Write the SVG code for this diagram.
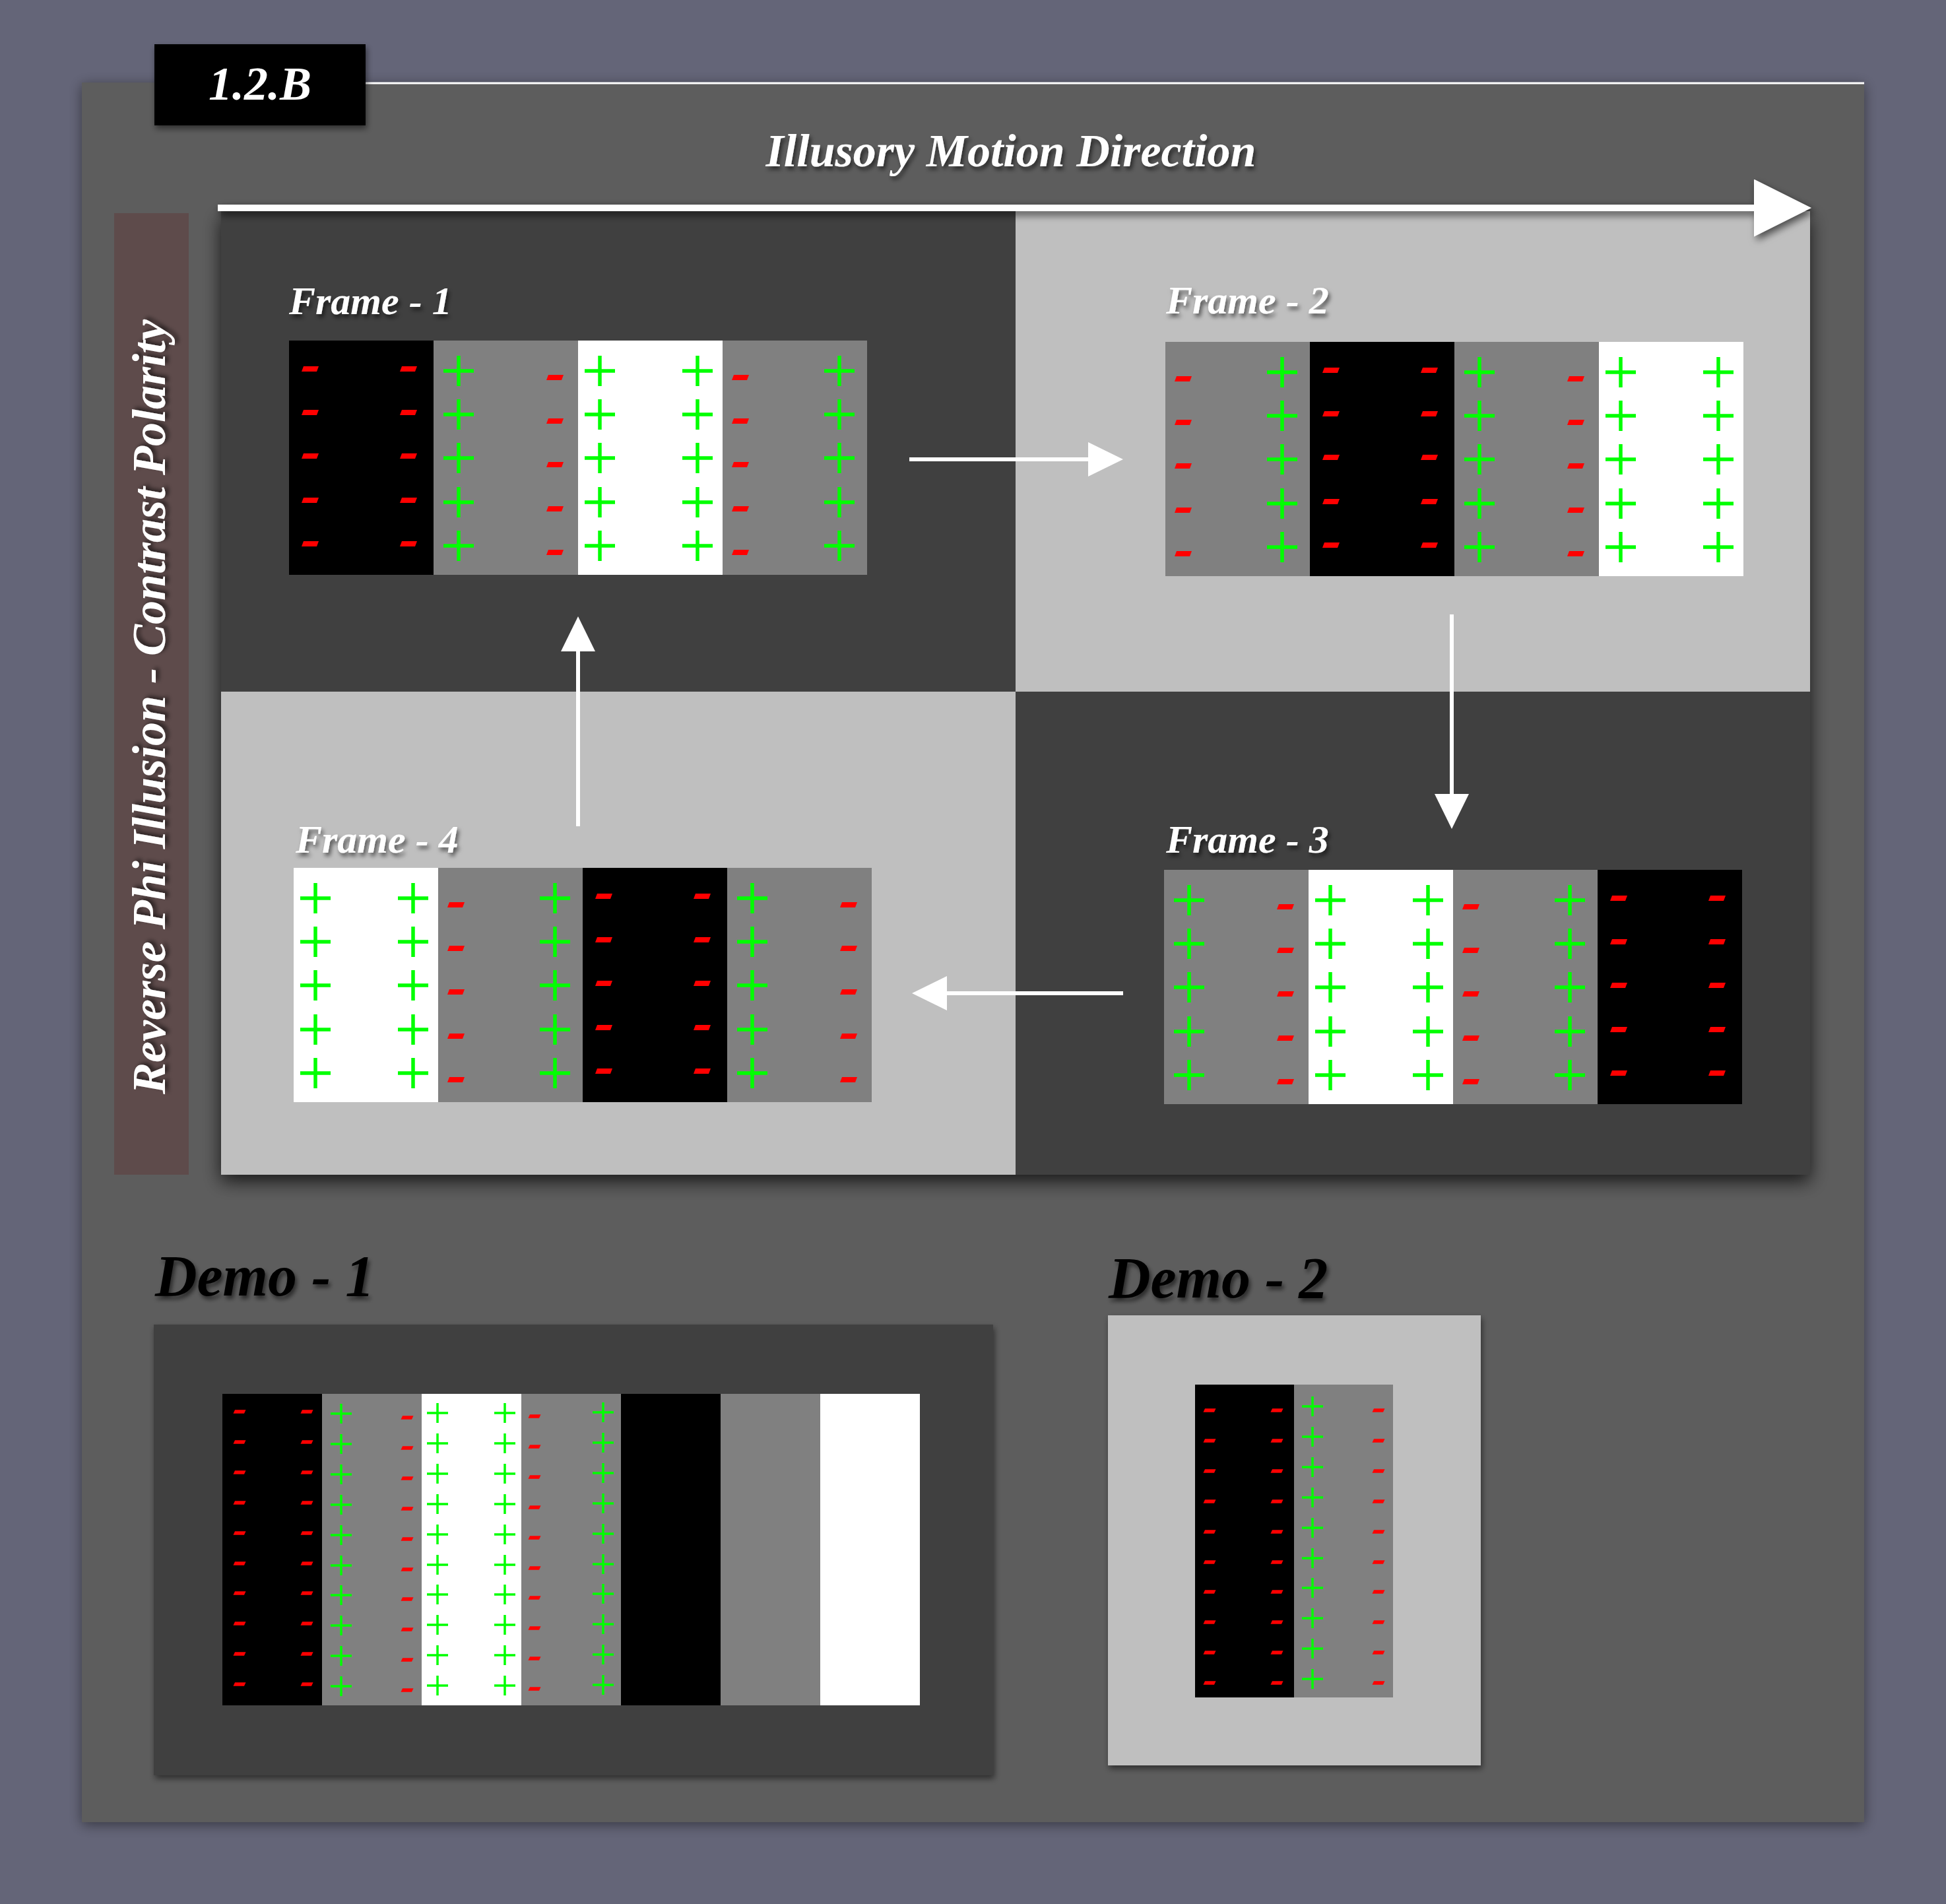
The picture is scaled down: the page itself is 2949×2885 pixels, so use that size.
<svg xmlns="http://www.w3.org/2000/svg" width="2949" height="2885" viewBox="0 0 2949 2885">
<style>
.t{font-family:"Liberation Serif","Times New Roman",serif;font-weight:bold;font-style:italic}
.pl{stroke:#00ff00;stroke-width:5.5;fill:none}
.pls{stroke:#00ff00;stroke-width:3.5;fill:none}
.mi{fill:#ff0000}
.conn{stroke:#ffffff;stroke-width:6;fill:none}
.ft{font-size:60px;fill:#ffffff}
.dt{font-size:88px;fill:#000000}
</style>
<defs>
<filter id="panelSh" x="-5%" y="-5%" width="110%" height="110%"><feDropShadow dx="0" dy="4" stdDeviation="10" flood-color="#000" flood-opacity="0.45"/></filter>
<filter id="frameSh" x="-5%" y="-5%" width="110%" height="112%"><feDropShadow dx="0" dy="10" stdDeviation="14" flood-color="#000" flood-opacity="0.75"/></filter>
<filter id="smallSh" x="-10%" y="-10%" width="120%" height="125%"><feDropShadow dx="2" dy="5" stdDeviation="5" flood-color="#000" flood-opacity="0.5"/></filter>
<filter id="txtSh" x="-5%" y="-20%" width="110%" height="150%"><feDropShadow dx="3" dy="5" stdDeviation="3" flood-color="#000" flood-opacity="0.55"/></filter>
<filter id="arrSh" filterUnits="userSpaceOnUse" x="200" y="200" width="2700" height="220"><feDropShadow dx="4" dy="6" stdDeviation="6" flood-color="#000" flood-opacity="0.6"/></filter>
<marker id="bigHead" markerUnits="userSpaceOnUse" markerWidth="87" markerHeight="87" viewBox="0 0 87 87" refX="0" refY="43.5" orient="auto"><path d="M0,0 L87,43.5 L0,87 Z" fill="#ffffff"/></marker>
<marker id="head" markerUnits="userSpaceOnUse" markerWidth="53" markerHeight="52" viewBox="0 0 53 52" refX="0" refY="26" orient="auto"><path d="M0,0 L53,26 L0,52 Z" fill="#ffffff"/></marker>
<path id="p" class="pl" d="M-23,0H23M0,-23V23"/>
<polygon id="m" class="mi" points="-13,4 10,4 13,-4 -10,-4"/>
<path id="ps" class="pls" d="M-16,0H16M0,-15V15"/>
<polygon id="ms" class="mi" points="-9.5,2.8 7,2.8 9.5,-2.8 -7,-2.8"/>
<g id="cB"><rect width="219" height="355" fill="#000000"/>
<use href="#m" x="32" y="43"/><use href="#m" x="32" y="109"/><use href="#m" x="32" y="175"/><use href="#m" x="32" y="242"/><use href="#m" x="32" y="308"/>
<use href="#m" x="181" y="43"/><use href="#m" x="181" y="109"/><use href="#m" x="181" y="175"/><use href="#m" x="181" y="242"/><use href="#m" x="181" y="308"/></g>
<g id="cW"><rect width="219" height="355" fill="#ffffff"/>
<use href="#p" x="33" y="46"/><use href="#p" x="33" y="112"/><use href="#p" x="33" y="178"/><use href="#p" x="33" y="245"/><use href="#p" x="33" y="311"/>
<use href="#p" x="181" y="46"/><use href="#p" x="181" y="112"/><use href="#p" x="181" y="178"/><use href="#p" x="181" y="245"/><use href="#p" x="181" y="311"/></g>
<g id="cPM"><rect width="219" height="355" fill="#808080"/>
<use href="#p" x="38" y="46"/><use href="#p" x="38" y="112"/><use href="#p" x="38" y="178"/><use href="#p" x="38" y="245"/><use href="#p" x="38" y="311"/>
<use href="#m" x="184" y="56"/><use href="#m" x="184" y="122"/><use href="#m" x="184" y="188"/><use href="#m" x="184" y="255"/><use href="#m" x="184" y="321"/></g>
<g id="cMP"><rect width="219" height="355" fill="#808080"/>
<use href="#m" x="27" y="56"/><use href="#m" x="27" y="122"/><use href="#m" x="27" y="188"/><use href="#m" x="27" y="255"/><use href="#m" x="27" y="321"/>
<use href="#p" x="177" y="46"/><use href="#p" x="177" y="112"/><use href="#p" x="177" y="178"/><use href="#p" x="177" y="245"/><use href="#p" x="177" y="311"/></g>
<g id="dB">
<use href="#ms" x="26" y="27"/><use href="#ms" x="26" y="73"/><use href="#ms" x="26" y="119"/><use href="#ms" x="26" y="165"/><use href="#ms" x="26" y="211"/><use href="#ms" x="26" y="257"/><use href="#ms" x="26" y="302"/><use href="#ms" x="26" y="348"/><use href="#ms" x="26" y="394"/><use href="#ms" x="26" y="440"/>
<use href="#ms" x="128" y="27"/><use href="#ms" x="128" y="73"/><use href="#ms" x="128" y="119"/><use href="#ms" x="128" y="165"/><use href="#ms" x="128" y="211"/><use href="#ms" x="128" y="257"/><use href="#ms" x="128" y="302"/><use href="#ms" x="128" y="348"/><use href="#ms" x="128" y="394"/><use href="#ms" x="128" y="440"/></g>
<g id="dW">
<use href="#ps" x="24" y="29"/><use href="#ps" x="24" y="75"/><use href="#ps" x="24" y="121"/><use href="#ps" x="24" y="167"/><use href="#ps" x="24" y="213"/><use href="#ps" x="24" y="259"/><use href="#ps" x="24" y="304"/><use href="#ps" x="24" y="350"/><use href="#ps" x="24" y="396"/><use href="#ps" x="24" y="442"/>
<use href="#ps" x="126" y="29"/><use href="#ps" x="126" y="75"/><use href="#ps" x="126" y="121"/><use href="#ps" x="126" y="167"/><use href="#ps" x="126" y="213"/><use href="#ps" x="126" y="259"/><use href="#ps" x="126" y="304"/><use href="#ps" x="126" y="350"/><use href="#ps" x="126" y="396"/><use href="#ps" x="126" y="442"/></g>
<g id="dPM">
<use href="#ps" x="29" y="30"/><use href="#ps" x="29" y="76"/><use href="#ps" x="29" y="122"/><use href="#ps" x="29" y="168"/><use href="#ps" x="29" y="214"/><use href="#ps" x="29" y="260"/><use href="#ps" x="29" y="305"/><use href="#ps" x="29" y="351"/><use href="#ps" x="29" y="397"/><use href="#ps" x="29" y="443"/>
<use href="#ms" x="129" y="36"/><use href="#ms" x="129" y="82"/><use href="#ms" x="129" y="128"/><use href="#ms" x="129" y="174"/><use href="#ms" x="129" y="220"/><use href="#ms" x="129" y="266"/><use href="#ms" x="129" y="311"/><use href="#ms" x="129" y="357"/><use href="#ms" x="129" y="403"/><use href="#ms" x="129" y="449"/></g>
<g id="dMP">
<use href="#ms" x="20" y="34"/><use href="#ms" x="20" y="80"/><use href="#ms" x="20" y="126"/><use href="#ms" x="20" y="172"/><use href="#ms" x="20" y="218"/><use href="#ms" x="20" y="264"/><use href="#ms" x="20" y="309"/><use href="#ms" x="20" y="355"/><use href="#ms" x="20" y="401"/><use href="#ms" x="20" y="447"/>
<use href="#ps" x="124" y="28"/><use href="#ps" x="124" y="74"/><use href="#ps" x="124" y="120"/><use href="#ps" x="124" y="166"/><use href="#ps" x="124" y="212"/><use href="#ps" x="124" y="258"/><use href="#ps" x="124" y="303"/><use href="#ps" x="124" y="349"/><use href="#ps" x="124" y="395"/><use href="#ps" x="124" y="441"/></g>
</defs>

<rect x="0" y="0" width="2949" height="2885" fill="#646578"/>

<g id="panel">
<rect x="124" y="125" width="2701" height="2636" fill="#5d5d5d" filter="url(#panelSh)"/>
<line x1="554" y1="126" x2="2825" y2="126" stroke="#ffffff" stroke-width="3"/>
</g>

<g id="label">
<rect x="234" y="67" width="320" height="123" fill="#000000" filter="url(#smallSh)"/>
<text class="t" x="394" y="151" font-size="72" fill="#ffffff" text-anchor="middle">1.2.B</text>
</g>

<g id="side-label">
<rect x="173" y="323" width="113" height="1457" fill="#5e4b4b"/>
<text class="t" transform="translate(250,1071) rotate(-90)" font-size="72" fill="#ffffff" text-anchor="middle" filter="url(#txtSh)">Reverse Phi Illusion - Contrast Polarity</text>
</g>

<g id="title">
<text class="t" x="1532" y="252" font-size="70" fill="#ffffff" text-anchor="middle" filter="url(#txtSh)">Illusory Motion Direction</text>
</g>

<g id="frames-panel">
<rect x="335" y="320" width="2408" height="1460" fill="#404040" filter="url(#frameSh)"/>
<rect x="335" y="320" width="1204" height="728" fill="#404040"/>
<rect x="1539" y="320" width="1204" height="728" fill="#bfbfbf"/>
<rect x="335" y="1048" width="1204" height="732" fill="#bfbfbf"/>
<rect x="1539" y="1048" width="1204" height="732" fill="#404040"/>
</g>

<g id="frame-1">
<text class="t ft" x="438" y="476" filter="url(#txtSh)">Frame - 1</text>
<use href="#cB" x="438" y="516"/><use href="#cPM" x="657" y="516"/><use href="#cW" x="876" y="516"/><use href="#cMP" x="1095" y="516"/>
</g>
<g id="frame-2">
<text class="t ft" x="1767" y="475" filter="url(#txtSh)">Frame - 2</text>
<use href="#cMP" x="1766" y="518"/><use href="#cB" x="1985" y="518"/><use href="#cPM" x="2204" y="518"/><use href="#cW" x="2423" y="518"/>
</g>
<g id="frame-3">
<text class="t ft" x="1767" y="1292" filter="url(#txtSh)">Frame - 3</text>
<use href="#cPM" x="1764" y="1318"/><use href="#cW" x="1983" y="1318"/><use href="#cMP" x="2202" y="1318"/><use href="#cB" x="2421" y="1318"/>
</g>
<g id="frame-4">
<text class="t ft" x="448" y="1292" filter="url(#txtSh)">Frame - 4</text>
<use href="#cW" x="445" y="1315"/><use href="#cMP" x="664" y="1315"/><use href="#cB" x="883" y="1315"/><use href="#cPM" x="1102" y="1315"/>
</g>

<g id="connectors">
<g filter="url(#arrSh)">
<line x1="330" y1="315" x2="2658" y2="315" stroke="#ffffff" stroke-width="10" marker-end="url(#bigHead)"/>
</g>
<line class="conn" x1="1378" y1="696" x2="1649" y2="696" marker-end="url(#head)"/>
<line class="conn" x1="2200" y1="931" x2="2200" y2="1203" marker-end="url(#head)"/>
<line class="conn" x1="1702" y1="1505" x2="1435" y2="1505" marker-end="url(#head)"/>
<line class="conn" x1="876" y1="1252" x2="876" y2="987" marker-end="url(#head)"/>
</g>

<g id="demo-1">
<text class="t dt" x="235" y="1963" filter="url(#txtSh)">Demo - 1</text>
<rect x="233" y="2007" width="1272" height="683" fill="#404040" filter="url(#smallSh)"/>
<rect x="337" y="2112" width="151" height="472" fill="#000000"/>
<rect x="488" y="2112" width="151" height="472" fill="#808080"/>
<rect x="639" y="2112" width="151" height="472" fill="#ffffff"/>
<rect x="790" y="2112" width="151" height="472" fill="#808080"/>
<rect x="941" y="2112" width="151" height="472" fill="#000000"/>
<rect x="1092" y="2112" width="151" height="472" fill="#808080"/>
<rect x="1243" y="2112" width="151" height="472" fill="#ffffff"/>
<use href="#dB" x="337" y="2112"/><use href="#dPM" x="488" y="2112"/><use href="#dW" x="639" y="2112"/><use href="#dMP" x="790" y="2112"/>
</g>

<g id="demo-2">
<text class="t dt" x="1680" y="1966" filter="url(#txtSh)">Demo - 2</text>
<rect x="1679" y="1993" width="565" height="682" fill="#bfbfbf" filter="url(#smallSh)"/>
<rect x="1811" y="2098" width="150" height="474" fill="#000000"/>
<rect x="1961" y="2098" width="150" height="474" fill="#808080"/>
<use href="#dB" x="1807" y="2110"/><use href="#dPM" x="1960" y="2101"/>
</g>
</svg>
